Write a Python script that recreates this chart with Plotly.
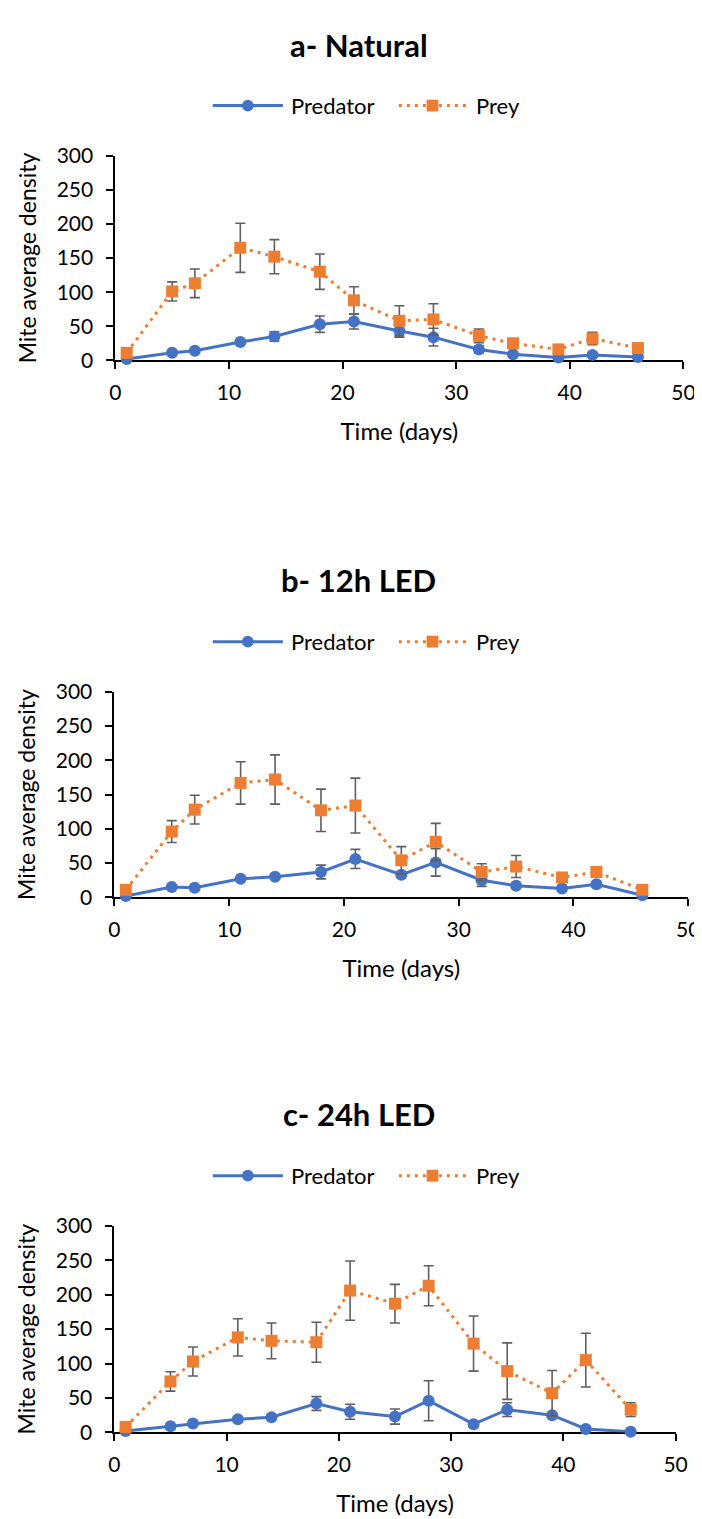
import plotly.graph_objects as go

# ---------------- data ----------------
days = [1, 5, 7, 11, 14, 18, 21, 25, 28, 32, 35, 39, 42, 46]

panel_titles = ["a- Natural", "b- 12h LED", "c- 24h LED"]

# a- Natural
pred_a = [2, 11, 14, 27, 35, 53, 57, 43, 34, 16, 9, 4, 8, 5]
pred_a_err = [1, 2, 2, 3, 7, 12, 11, 9, 13, 5, 2, 1, 2, 1]
prey_a = [11, 101, 113, 165, 152, 130, 88, 58, 60, 36, 25, 16, 32, 18]
prey_a_err = [3, 14, 21, 36, 25, 26, 20, 22, 23, 10, 4, 3, 9, 3]

# b- 12h LED
pred_b = [2, 15, 14, 27, 30, 37, 56, 33, 51, 25, 17, 13, 19, 3]
pred_b_err = [1, 2, 2, 2, 3, 10, 14, 4, 20, 9, 3, 2, 4, 1]
prey_b = [11, 96, 128, 167, 172, 127, 134, 54, 81, 37, 45, 29, 37, 11]
prey_b_err = [2, 16, 21, 31, 36, 31, 40, 20, 27, 12, 16, 4, 5, 2]

# c- 24h LED
pred_c = [2, 9, 13, 19, 22, 42, 30, 23, 46, 12, 33, 25, 5, 1]
pred_c_err = [1, 2, 2, 3, 3, 10, 11, 11, 29, 2, 10, 3, 1, 1]
prey_c = [8, 74, 103, 138, 133, 131, 206, 187, 213, 129, 89, 57, 105, 33]
prey_c_err = [2, 14, 21, 27, 26, 29, 43, 28, 29, 40, 41, 33, 39, 10]

x_ticks = [0, 10, 20, 30, 40, 50]
y_ticks = [0, 50, 100, 150, 200, 250, 300]
x_title = "Time (days)"
y_title = "Mite average density"
series_names = ["Predator", "Prey"]

# ---------------- style / layout ----------------
W, H = 702, 1519
FONT = "Lato, Carlito, Calibri, sans-serif"
BLUE = "#4472C4"
ORANGE = "#ED7D31"
ERR = "#5f5f5f"
DOT = "3px,5px"

# pixel boxes: (left, right, top, bottom)
boxes = [(104, 687, 136, 344), (103, 692, 681, 890), (103, 679, 1224, 1434)]
title_y = [23, 567, 1110]
legend_y = [85, 630, 1173]

panels = [
    (pred_a, pred_a_err, prey_a, prey_a_err),
    (pred_b, pred_b_err, prey_b, prey_b_err),
    (pred_c, pred_c_err, prey_c, prey_c_err),
]

fig = go.Figure()
annotations, shapes = [], []
layout = dict(
    width=W, height=H,
    margin=dict(l=0, r=0, t=0, b=0),
    paper_bgcolor="white", plot_bgcolor="white",
    font=dict(family=FONT, size=21, color="#000000"),
    showlegend=False,
)


def px(xp):
    return xp / W


def py(yp):
    return 1 - yp / H


for i, (pr, pre, pyv, pye) in enumerate(panels):
    n = "" if i == 0 else str(i + 1)
    xa, ya = "x" + n, "y" + n
    l, r, t, b = boxes[i]
    fig.add_trace(go.Scatter(
        x=days, y=pr, name=series_names[0], mode="lines+markers",
        xaxis=xa, yaxis=ya, cliponaxis=False,
        line=dict(color=BLUE, width=3),
        marker=dict(symbol="circle", size=12, color=BLUE),
        error_y=dict(type="data", array=pre, visible=True, color=ERR, thickness=1.6, width=5),
    ))
    fig.add_trace(go.Scatter(
        x=days, y=pyv, name=series_names[1], mode="lines+markers",
        xaxis=xa, yaxis=ya, cliponaxis=False,
        line=dict(color=ORANGE, width=3, dash=DOT),
        marker=dict(symbol="square", size=12, color=ORANGE),
        error_y=dict(type="data", array=pye, visible=True, color=ERR, thickness=1.6, width=5),
    ))
    layout["xaxis" + n] = dict(
        domain=[px(l), px(r)], range=[0, 50], anchor=ya,
        tickmode="array", tickvals=x_ticks,
        showline=True, linecolor="#000000", linewidth=1.8,
        ticks="outside", ticklen=7, tickwidth=1.8, tickcolor="#000000",
        showgrid=False, zeroline=False, layer="below traces",
        tickfont=dict(family=FONT, size=21), ticklabelstandoff=6,
        title=dict(text=x_title, font=dict(family=FONT, size=24), standoff=20),
    )
    layout["yaxis" + n] = dict(
        domain=[py(b), py(t)], range=[0, 300], anchor=xa,
        tickmode="array", tickvals=y_ticks,
        showline=True, linecolor="#000000", linewidth=1.8,
        ticks="outside", ticklen=7, tickwidth=1.8, tickcolor="#000000",
        showgrid=False, zeroline=False, layer="below traces",
        tickfont=dict(family=FONT, size=21), ticklabelstandoff=9,
        title=dict(text=y_title, font=dict(family=FONT, size=23), standoff=14),
    )
    # panel title
    annotations.append(dict(
        text="<b>" + panel_titles[i] + "</b>", xref="paper", yref="paper",
        x=px(354), y=py(title_y[i]), xanchor="center", yanchor="middle",
        showarrow=False, font=dict(family=FONT, size=31, color="#000000"),
    ))
    # custom legend (Excel-style long sample lines)
    ly = py(legend_y[i])
    shapes.append(dict(type="line", xref="paper", yref="paper",
                       x0=px(204), x1=px(276), y0=ly, y1=ly,
                       line=dict(color=BLUE, width=3)))
    shapes.append(dict(type="circle", xref="paper", yref="paper",
                       x0=px(234), x1=px(246), y0=py(legend_y[i] + 6), y1=py(legend_y[i] - 6),
                       line=dict(color=BLUE, width=0), fillcolor=BLUE))
    annotations.append(dict(
        text=series_names[0], xref="paper", yref="paper",
        x=px(282), y=ly, xanchor="left", yanchor="middle", showarrow=False,
        font=dict(family=FONT, size=22, color="#000000"),
    ))
    shapes.append(dict(type="line", xref="paper", yref="paper",
                       x0=px(395), x1=px(464), y0=ly, y1=ly,
                       line=dict(color=ORANGE, width=3, dash=DOT)))
    shapes.append(dict(type="rect", xref="paper", yref="paper",
                       x0=px(423.5), x1=px(435.5), y0=py(legend_y[i] + 6), y1=py(legend_y[i] - 6),
                       line=dict(color=ORANGE, width=0), fillcolor=ORANGE))
    annotations.append(dict(
        text=series_names[1], xref="paper", yref="paper",
        x=px(472), y=ly, xanchor="left", yanchor="middle", showarrow=False,
        font=dict(family=FONT, size=22, color="#000000"),
    ))

layout["annotations"] = annotations
layout["shapes"] = shapes
fig.update_layout(**layout)
fig.write_html("out.html")
